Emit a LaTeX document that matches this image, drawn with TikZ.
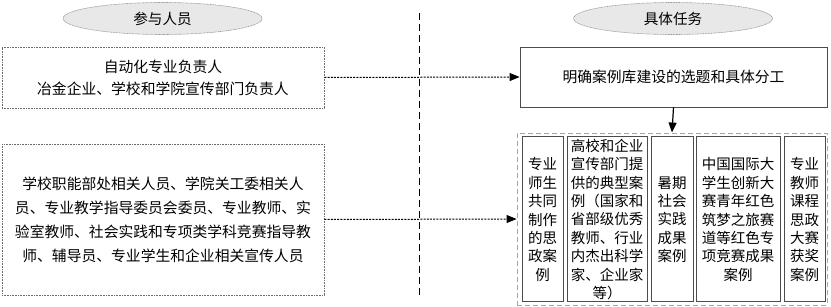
\documentclass[tikz,border=0pt]{standalone}
\usepackage{fontspec}
\setmainfont{Noto Sans CJK SC}
\usetikzlibrary{shapes.geometric,arrows.meta}
\tikzset{
  x=1pt,y=-1pt,
  oval/.style={ellipse,draw=gray!80,dash pattern=on 1pt off 0.6pt,line width=0.6pt,fill=gray!18,minimum width=199pt,minimum height=32pt,inner sep=0pt,font=\fontsize{14.6pt}{17pt}\selectfont},
  pbox/.style={draw=gray!85!black,dash pattern=on 1pt off 0.6pt,line width=0.7pt,align=center,inner sep=0pt,font=\fontsize{14.8pt}{22pt}\selectfont},
  tbox/.style={draw=black!70,line width=0.8pt,align=center,inner sep=0pt,font=\fontsize{14.8pt}{18pt}\selectfont},
  cbox/.style={draw=black!70,line width=1pt,align=center,inner sep=0pt,minimum height=165pt,font=\fontsize{14.5pt}{18.4pt}\selectfont},
  grp/.style={draw=gray!70,dash pattern=on 5pt off 3pt,line width=0.9pt,inner sep=0pt},
  darrow/.style={draw=black,line width=1pt,dash pattern=on 2pt off 1.2pt,-{Triangle[length=10pt,width=8pt]}},
  sarrow/.style={draw=black,line width=1.2pt,-{Triangle[length=10pt,width=8pt]}},
  divider/.style={draw=black,line width=0.8pt,dash pattern=on 7pt off 4pt}
}
\begin{document}
\begin{tikzpicture}
\useasboundingbox (0,0) rectangle (831,307);
\node[oval] (o1) at (162.5,18.5) {参与人员};
\node[oval] (o2) at (673,18.5) {具体任务};
\coordinate (vt) at (419.5,13);
\coordinate (vb) at (419.5,297);
\draw[divider] (vt) -- (vb);
\node[pbox,minimum width=322pt,minimum height=61pt] (b1) at (163,77.5) {自动化专业负责人\\冶金企业、学校和学院宣传部门负责人};
\node[pbox,minimum width=322pt,minimum height=151pt,font=\fontsize{14.8pt}{24pt}\selectfont] (b2) at (163,219.5) {学校职能部处相关人员、学院关工委相关人\\员、专业教学指导委员会委员、专业教师、实\\验室教师、社会实践和专项类学科竞赛指导教\\师、辅导员、专业学生和企业相关宣传人员};
\node[tbox,minimum width=307pt,minimum height=60pt] (b3) at (673.5,77) {明确案例库建设的选题和具体分工};
\node[grp,minimum width=310pt,minimum height=172pt] (g) at (672,219) {};
\node[cbox,minimum width=41pt] (c1) at (542.5,219.5) {专业\\师生\\共同\\制作\\的思\\政案\\例};
\node[cbox,minimum width=80pt] (c2) at (607,219.5) {高校和企业\\宣传部门提\\供的典型案\\例（国家和\\省部级优秀\\教师、行业\\内杰出科学\\家、企业家\\等）};
\node[cbox,minimum width=42pt] (c3) at (672,219.5) {暑期\\社会\\实践\\成果\\案例};
\node[cbox,minimum width=84pt] (c4) at (738,219.5) {中国国际大\\学生创新大\\赛青年红色\\筑梦之旅赛\\道等红色专\\项竞赛成果\\案例};
\node[cbox,minimum width=41pt] (c5) at (804.5,219.5) {专业\\教师\\课程\\思政\\大赛\\获奖\\案例};
\draw[darrow] (b1.east) -- (b3.west);
\draw[darrow] (b2.east) -- (g.west);
\draw[sarrow] (b3.south) -- (g.north);
\end{tikzpicture}
\end{document}
